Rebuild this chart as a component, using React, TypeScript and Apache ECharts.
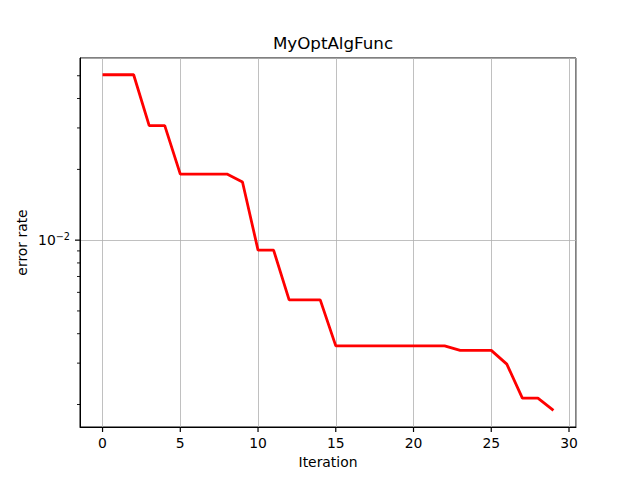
import React, { useEffect, useRef } from "react";
import * as echarts from "echarts";

const iterations = [
  0, 1, 2, 3, 4, 5, 6, 7, 8, 9, 10, 11, 12, 13, 14, 15, 16, 17, 18, 19, 20, 21, 22, 23, 24, 25, 26, 27, 28, 29,
];
const errorRate = [
  0.0505, 0.0505, 0.0505, 0.0307, 0.0307, 0.0191, 0.0191, 0.0191, 0.0191, 0.01766,
  0.00907, 0.00907, 0.00557, 0.00557, 0.00557, 0.00355, 0.00355, 0.00355, 0.00355, 0.00355,
  0.00355, 0.00355, 0.00355, 0.0034, 0.0034, 0.0034, 0.00297, 0.00213, 0.00213, 0.00189,
];
const xTicks = [0, 5, 10, 15, 20, 25, 30];
const yMajorTicks = [0.01];
const yMinorTicks = [0.002, 0.003, 0.004, 0.005, 0.006, 0.007, 0.008, 0.009, 0.02, 0.03, 0.04, 0.05];

const X_MIN = -1.45;
const X_MAX = 30.45;
const Y_MIN = 0.001605;
const Y_MAX = 0.0595;

const FONT = "DejaVu Sans";

export default function App() {
  const ref = useRef<HTMLDivElement>(null);
  useEffect(() => {
    if (!ref.current) return;
    const chart = echarts.init(ref.current, undefined, { renderer: "svg" });
    const tickSeries = (data: number[], kind: "x" | "yMajor" | "yMinor") => ({
      type: "scatter",
      clip: false,
      silent: true,
      z: 10,
      symbol: "rect",
      symbolSize: kind === "x" ? [1.2, 5] : kind === "yMajor" ? [5, 1.2] : [3, 0.9],
      symbolOffset: kind === "x" ? [0, "50%"] : ["-50%", 0],
      itemStyle: { color: "#000", opacity: 1 },
      data: data.map((v) => (kind === "x" ? [v, Y_MIN] : [X_MIN, v])),
    });
    chart.setOption({
      animation: false,
      backgroundColor: "#fff",
      title: {
        text: "MyOptAlgFunc",
        left: 328,
        textAlign: "center",
        top: 29,
        textStyle: { fontFamily: FONT, fontSize: 16.7, fontWeight: "normal", color: "#000" },
      },
      grid: {
        left: 80,
        right: 64,
        top: 58,
        bottom: 53,
        show: true,
        borderColor: "#000",
        borderWidth: 1,
        backgroundColor: "#fff",
        z: 0,
      },
      xAxis: {
        type: "value",
        min: X_MIN,
        max: X_MAX,
        name: "Iteration",
        nameLocation: "middle",
        nameGap: 28,
        nameTextStyle: { fontFamily: FONT, fontSize: 13.9, color: "#000" },
        axisLine: { show: true, onZero: false, lineStyle: { color: "#000", width: 1 } },
        axisTick: { show: false },
        axisLabel: {
          margin: 9,
          fontFamily: FONT,
          fontSize: 13.9,
          color: "#000",
          formatter: (v: number) => (xTicks.some((t) => Math.abs(t - v) < 1e-6) ? String(v) : ""),
        },
        splitLine: { show: true, lineStyle: { color: "#b0b0b0", width: 0.8 } },
      },
      yAxis: {
        type: "log",
        logBase: 10,
        min: Y_MIN,
        max: Y_MAX,
        name: "error rate",
        nameLocation: "middle",
        nameGap: 51,
        nameMoveOverlap: false,
        nameTextStyle: { fontFamily: FONT, fontSize: 13.9, color: "#000" },
        axisLine: { show: true, onZero: false, lineStyle: { color: "#000", width: 1 } },
        axisTick: { show: false },
        axisLabel: {
          margin: 10,
          fontFamily: FONT,
          fontSize: 13.9,
          color: "#000",
          formatter: (v: number) =>
            yMajorTicks.some((t) => Math.abs(Math.log10(v) - Math.log10(t)) < 1e-6)
              ? "{b|10}{s|\u22122}"
              : "",
          rich: {
            b: { fontFamily: FONT, fontSize: 13.9, color: "#000" },
            s: { fontFamily: FONT, fontSize: 9.7, color: "#000", padding: [0, 0, 8, 0] },
          },
        },
        splitLine: { show: true, lineStyle: { color: "#b0b0b0", width: 0.8 } },
      },
      series: [
        {
          type: "line",
          data: iterations.map((x, i) => [x, errorRate[i]]),
          showSymbol: false,
          symbol: "none",
          lineStyle: { color: "#ff0000", width: 2.8 },
          z: 5,
        },
        tickSeries(xTicks, "x"),
        tickSeries(yMajorTicks, "yMajor"),
        tickSeries(yMinorTicks, "yMinor"),
      ],
    });
    return () => chart.dispose();
  }, []);
  return <div ref={ref} style={{ width: 640, height: 480, position: "absolute", left: 0, top: 0 }} />;
}
